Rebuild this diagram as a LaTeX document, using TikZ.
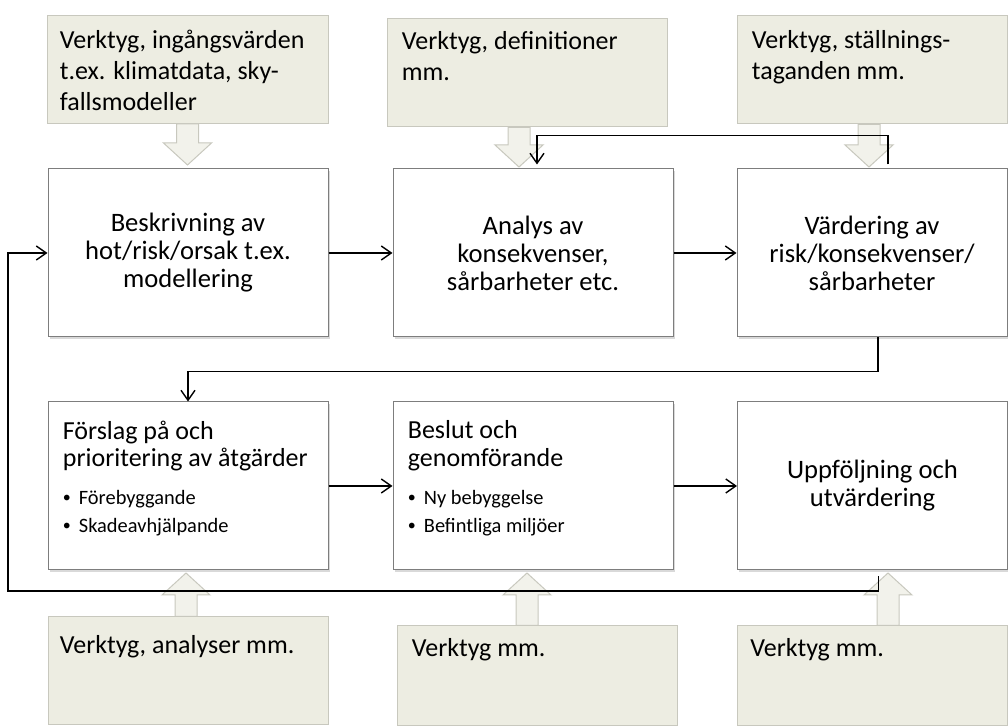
\documentclass[tikz,border=0pt]{standalone}
\usepackage{fontspec}
\setmainfont{Carlito}
\usetikzlibrary{arrows.meta, calc, shadows}

\definecolor{toolfill}{RGB}{237,237,226}
\definecolor{toolline}{RGB}{200,200,190}
\definecolor{boxline}{RGB}{125,125,125}

% wide hollow arrows from a tool box to its step
\newcommand\blockdown[2]{\path[blk] let \p1=#1, \p2=#2 in
  (\x1-5.5pt,\y1) -- (\x1-5.5pt,\y2+11pt) -- (\x1-12pt,\y2+11pt) -- (\x1,\y2)
  -- (\x1+12pt,\y2+11pt) -- (\x1+5.5pt,\y2+11pt) -- (\x1+5.5pt,\y1) -- cycle;}
\newcommand\blockup[2]{\path[blk] let \p1=#1, \p2=#2 in
  (\x1-5.5pt,\y1) -- (\x1-5.5pt,\y2-11pt) -- (\x1-12pt,\y2-11pt) -- (\x1,\y2)
  -- (\x1+12pt,\y2-11pt) -- (\x1+5.5pt,\y2-11pt) -- (\x1+5.5pt,\y1) -- cycle;}
\newcommand\bul{\makebox[8pt][l]{\raisebox{0.6pt}{\fontsize{8}{8}\selectfont\textbullet}}}

\begin{document}
\begin{tikzpicture}[
    x=0.5pt, y=-0.5pt,
    >={Straight Barb[length=5pt,width=7pt]},
    font=\fontsize{13.3}{14}\selectfont,
    box/.style={
        draw=boxline, fill=white, line width=0.5pt, align=center,
        minimum width=140pt, minimum height=84pt, inner sep=4pt,
        drop shadow={shadow xshift=0.8pt, shadow yshift=-0.8pt, opacity=0.3}
    },
    tool/.style={draw=toolline, fill=toolfill, line width=0.5pt,
        minimum width=140pt, minimum height=54pt, inner sep=0pt},
    tooltxt/.style={anchor=north west, inner sep=0pt, align=left,
        font=\fontsize{13}{15.5}\selectfont},
    boxtxt/.style={anchor=north west, inner sep=0pt, align=left,
        font=\fontsize{13}{13.8}\selectfont},
    bullets/.style={anchor=north west, inner sep=0pt, align=left,
        font=\fontsize{10.2}{14}\selectfont},
    blk/.style={draw=toolline, fill=toolfill!70!white, line width=0.5pt},
    arr/.style={->, draw=black, line width=0.7pt},
]
\useasboundingbox (0,0) rectangle (1008,726);
% ---------- tools above ----------
\node[tool, minimum width=140.5pt] (tool1) at (187.5,69.5) {};
\node[tool] (tool2) at (527,73) {};
\node[tool, minimum width=135pt] (tool3) at (872,70) {};
\node[tooltxt] (tool1txt) at ([xshift=6.5pt,yshift=-7.5pt]tool1.north west)
    {Verktyg, ingångsvärden\\t.ex. klimatdata, sky-\\fallsmodeller};
\node[tooltxt] (tool2txt) at ([xshift=7.5pt,yshift=-6.5pt]tool2.north west)
    {Verktyg, definitioner\\mm.};
\node[tooltxt] (tool3txt) at ([xshift=7.5pt,yshift=-7.5pt]tool3.north west)
    {Verktyg, ställnings-\\taganden mm.};
% ---------- tools below ----------
\node[tool] (tool4) at (188,671) {};
\node[tool, minimum height=50pt] (tool5) at (537,676) {};
\node[tool, minimum width=135pt, minimum height=50pt] (tool6) at (872.5,676) {};
\node[tooltxt] (tool4txt) at ([xshift=6pt,yshift=-9.5pt]tool4.north west)
    {Verktyg, analyser mm.};
\node[tooltxt] (tool5txt) at ([xshift=7.5pt,yshift=-6.5pt]tool5.north west)
    {Verktyg mm.};
\node[tooltxt] (tool6txt) at ([xshift=6.5pt,yshift=-6.5pt]tool6.north west)
    {Verktyg mm.};
% ---------- hollow arrows ----------
\blockdown{(tool1.south)}{([yshift=1pt]tool1.south |- 0,167)}
\blockdown{([xshift=-4pt]tool2.south)}{([xshift=-4pt]tool2.south |- 0,167)}
\blockdown{([xshift=-1.5pt]tool3.south)}{([xshift=-1.5pt]tool3.south |- 0,167)}
\blockup{([xshift=-1pt]tool4.north)}{([xshift=-1pt]tool4.north |- 0,573)}
\blockup{([xshift=-5pt]tool5.north)}{([xshift=-5pt]tool5.north |- 0,573)}
\blockup{([xshift=7.75pt]tool6.north)}{([xshift=7.75pt]tool6.north |- 0,573)}
% ---------- steps, first row ----------
\node[box] (desc) at (188,253) {Beskrivning av\\hot/risk/orsak t.ex.\\modellering};
\node[box] (ana)  at (533,253) {Analys av\\konsekvenser,\\sårbarheter etc.};
\node[box, minimum width=135pt] (eval) at (872,253) {Värdering av\\risk/konsekvenser/\\sårbarheter};
% ---------- steps, second row ----------
\node[box] (prop) at (188,486) {};
\node[boxtxt] (proptxt) at ([xshift=7.5pt,yshift=-9.5pt]prop.north west)
    {Förslag på och\\prioritering av åtgärder};
\node[bullets] (proplist) at ([xshift=7.5pt,yshift=-44pt]prop.north west)
    {\bul Förebyggande\\\bul Skadeavhjälpande};
\node[box] (dec) at (533,486) {};
\node[boxtxt] (dectxt) at ([xshift=7.5pt,yshift=-9.5pt]dec.north west)
    {Beslut och\\genomförande};
\node[bullets] (declist) at ([xshift=7.5pt,yshift=-44pt]dec.north west)
    {\bul Ny bebyggelse\\\bul Befintliga miljöer};
\node[box, minimum width=135pt] (follow) at (872.5,486) {Uppföljning och\\utvärdering};
% ===================== EDGES =====================
\draw[arr] (desc) -- (ana);
\draw[arr] (ana) -- (eval);
\draw[arr] (prop) -- (dec);
\draw[arr] (dec) -- (follow);
\draw[arr] ([xshift=8pt,yshift=2pt]eval.north) -- ++(0,-29) -| ([xshift=2pt,yshift=2pt]ana.north);
\draw[arr] ([xshift=3pt]eval.south) -- ++(0,34) -| (prop.north);
% back to the start
\coordinate (loopcorner) at (8,591);
\draw[arr] ([xshift=3pt,yshift=-3pt]follow.south) |- (loopcorner) |- (desc.west);
\end{tikzpicture}
\end{document}
